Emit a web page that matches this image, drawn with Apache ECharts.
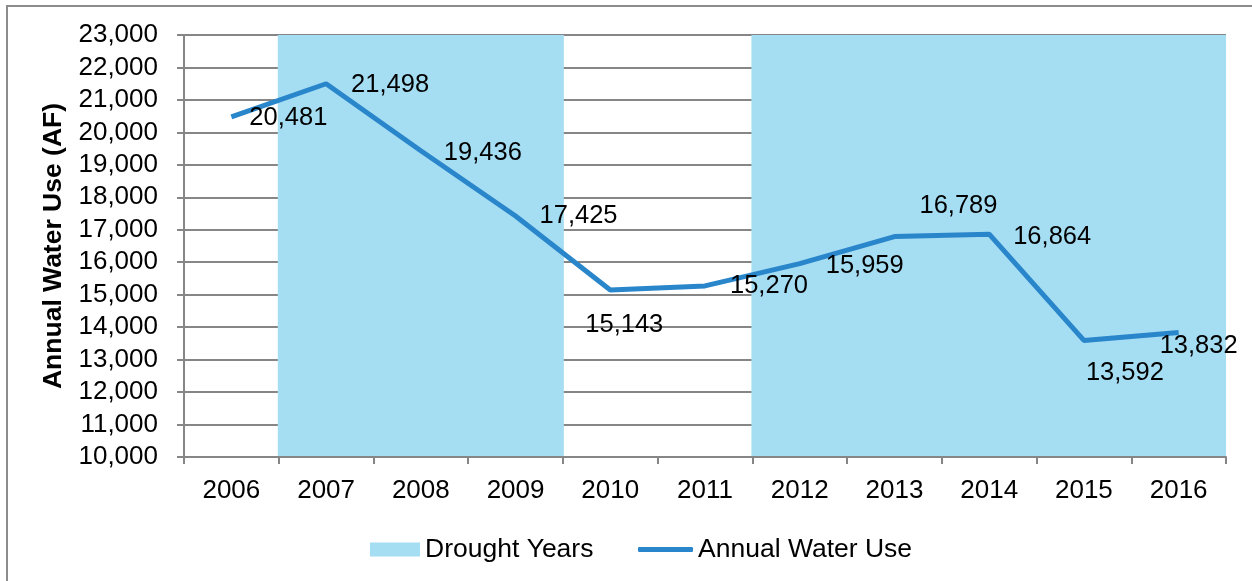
<!DOCTYPE html>
<html>
<head>
<meta charset="utf-8">
<script src="https://cdn.jsdelivr.net/npm/echarts@6/dist/echarts.min.js"></script>
<style>
html,body{margin:0;padding:0;background:#fff;}
#chart{width:1252px;height:581px;}
</style>
</head>
<body>
<div id="chart"></div>
<script>
const categories = ['2006','2007','2008','2009','2010','2011','2012','2013','2014','2015','2016'];
const waterUse = [20481, 21498, 19436, 17425, 15143, 15270, 15959, 16789, 16864, 13592, 13832];
const droughtYears = [null, 23000, 23000, 23000, null, null, 23000, 23000, 23000, 23000, 23000];
const yTicks = [10000, 11000, 12000, 13000, 14000, 15000, 16000, 17000, 18000, 19000, 20000, 21000, 22000, 23000];
// label offsets (px) relative to each point, styling only
const labelOffsets = [[57,1],[64,1],[62,2],[63,0],[14,35],[64,0],[65,2],[64,-31],[63,3],[41,33],[20,13]];

const FONT = 'Liberation Sans, Arial, sans-serif';
const fmt = v => Number(v).toLocaleString('en-US');

const chart = echarts.init(document.getElementById('chart'), null, {renderer:'canvas'});
chart.setOption({
  animation: false,
  backgroundColor: '#fff',
  graphic: [{
    type: 'rect', z: 100, silent: true,
    shape: {x: 7, y: 6, width: 1400, height: 800},
    style: {fill: 'none', stroke: '#8c8c8c', lineWidth: 2}
  }],
  grid: {left: 184, top: 35, right: 26, bottom: 124, containLabel: false},
  legend: [{
    data: ['Drought Years'],
    left: 365, top: 531,
    itemWidth: 50, itemHeight: 14, icon: 'rect',
    textStyle: {fontFamily: FONT, fontSize: 26.5, color: '#000', lineHeight: 26}
  },{
    data: ['Annual Water Use'],
    left: 633, top: 531,
    itemWidth: 55, itemHeight: 5, icon: 'roundRect',
    textStyle: {fontFamily: FONT, fontSize: 26.5, color: '#000', lineHeight: 26}
  }],
  xAxis: {
    type: 'category',
    data: categories,
    boundaryGap: true,
    z: 5,
    splitLine: {show: false},
    axisLine: {lineStyle: {color: '#868686', width: 2}},
    axisTick: {show: true, length: 7, lineStyle: {color: '#868686', width: 2}},
    axisLabel: {fontFamily: FONT, fontSize: 26, color: '#000', margin: 21, interval: 0}
  },
  yAxis: {
    type: 'value',
    min: 10000, max: 23000, interval: 1000,
    name: 'Annual Water Use (AF)',
    nameLocation: 'middle', nameRotate: 90, nameGap: 110,
    nameTextStyle: {fontFamily: FONT, fontSize: 26.5, fontWeight: 'bold', color: '#000'},
    axisLine: {show: true, lineStyle: {color: '#868686', width: 2}},
    axisTick: {show: true, length: 7, lineStyle: {color: '#868686', width: 2}},
    axisLabel: {fontFamily: FONT, fontSize: 26, color: '#000', margin: 26,
      formatter: v => yTicks.includes(v) ? fmt(v) : ''},
    splitLine: {show: true, lineStyle: {color: '#868686', width: 2}}
  },
  series: [{
    name: 'Drought Years',
    type: 'bar',
    data: droughtYears,
    barWidth: '102%',
    barGap: '-100%',
    itemStyle: {color: '#a5ddf3'},
    z: 1,
    silent: true
  },{
    name: 'Annual Water Use',
    type: 'line',
    data: waterUse.map((v, i) => ({
      value: v,
      label: {offset: labelOffsets[i]}
    })),
    symbol: 'circle', symbolSize: 0.1, showSymbol: true,
    lineStyle: {color: '#2a86cb', width: 5},
    itemStyle: {color: '#2a86cb'},
    z: 3,
    label: {
      show: true, position: 'inside',
      fontFamily: FONT, fontSize: 25.5, color: '#000',
      formatter: p => fmt(p.value)
    }
  }]
});
</script>
</body>
</html>
